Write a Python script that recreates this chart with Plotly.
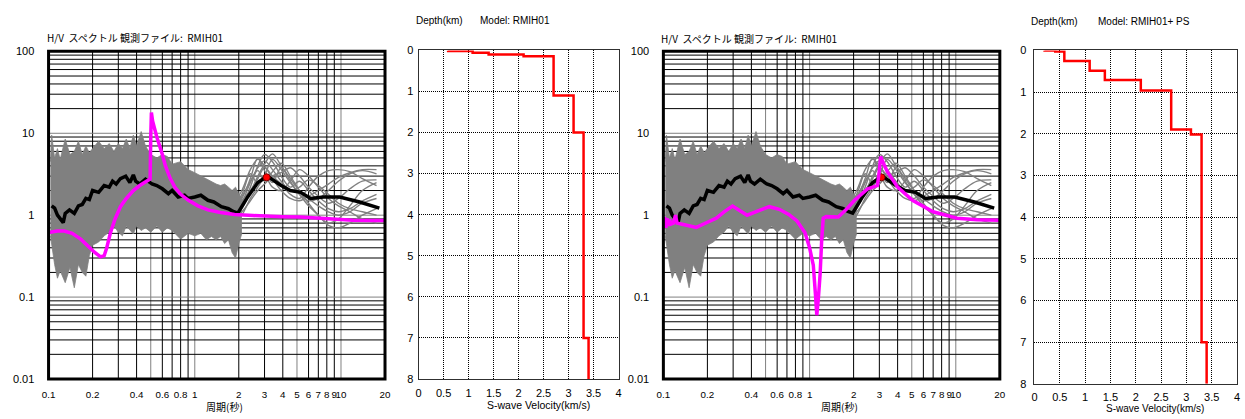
import math
import plotly.graph_objects as go

W, H = 1245, 419

# ---------------- observed H/V (file RMIH01, shared by both H/V panels) ----------------
band_period = [0.103, 0.105, 0.11, 0.115, 0.12, 0.13, 0.14, 0.15, 0.16, 0.17, 0.18, 0.19, 0.2, 0.22, 0.24,
               0.26, 0.28, 0.3, 0.32, 0.34, 0.36, 0.38, 0.4, 0.43, 0.46, 0.5, 0.55, 0.6, 0.65, 0.7,
               0.8, 0.9, 1.0, 1.1, 1.2, 1.3, 1.4, 1.5, 1.6, 1.7, 1.8, 1.9, 2.0, 2.1]
band_upper = [4.5, 9.5, 5.0, 6.5, 4.8, 8.5, 5.5, 6.0, 8.0, 5.5, 7.0, 5.8, 6.5, 8.0, 6.5,
              7.5, 6.0, 7.5, 6.5, 8.5, 6.5, 9.5, 7.0, 10.5, 7.0, 5.5, 5.0, 5.5, 5.2, 4.2,
              4.5, 3.6, 3.3, 3.0, 2.8, 2.6, 2.4, 2.3, 2.4, 2.2, 2.0, 2.2, 1.8, 1.6]
band_lower = [0.56, 0.43, 0.25, 0.17, 0.21, 0.15, 0.23, 0.13, 0.25, 0.2, 0.18, 0.32, 0.43, 0.47, 0.56,
              0.62, 0.74, 0.62, 0.56, 0.74, 0.65, 0.59, 0.74, 0.65, 0.7, 0.62, 0.74, 0.62, 0.7, 0.65,
              0.51, 0.6, 0.56, 0.6, 0.5, 0.55, 0.5, 0.55, 0.45, 0.5, 0.35, 0.3, 0.45, 0.6]

smooth_period = [1.8, 2.1, 2.4, 2.7, 3.0, 3.4, 3.9, 4.5, 5.2, 6.0, 7.0, 8.2, 9.6, 11.5, 14.0, 17.5]
obs_curve_01 = [1.0, 1.3, 2.2, 4.0, 5.5, 4.5, 3.0, 2.2, 2.6, 2.0, 1.5, 1.2, 1.1, 1.2, 1.5, 1.8]
obs_curve_02 = [1.1, 1.6, 2.8, 5.0, 3.5, 2.5, 3.8, 2.6, 1.8, 1.5, 1.6, 2.0, 2.6, 3.2, 3.5, 3.2]
obs_curve_03 = [0.8, 1.2, 1.9, 3.0, 4.2, 5.6, 4.0, 2.8, 2.0, 1.6, 1.3, 1.1, 1.0, 1.1, 1.4, 1.6]
obs_curve_04 = [0.9, 1.4, 2.5, 3.5, 2.6, 3.4, 4.3, 3.0, 2.0, 1.4, 1.0, 0.8, 0.9, 1.3, 2.0, 2.5]
obs_curve_05 = [1.2, 1.8, 3.2, 2.4, 3.0, 2.2, 2.0, 2.6, 3.6, 3.0, 2.2, 1.6, 1.3, 1.1, 0.9, 0.8]
obs_curve_06 = [1.0, 1.5, 2.0, 2.8, 3.8, 3.0, 2.4, 1.8, 1.6, 2.2, 3.0, 3.5, 3.6, 3.4, 2.8, 2.3]
obs_curve_07 = [0.7, 1.0, 1.6, 2.2, 3.0, 4.8, 3.6, 2.5, 1.8, 1.3, 1.0, 0.75, 0.7, 0.8, 1.0, 1.2]
obs_curve_08 = [1.3, 2.0, 3.6, 4.8, 4.0, 2.8, 2.0, 1.6, 1.5, 1.7, 2.0, 2.4, 2.9, 3.3, 3.6, 3.6]
obs_curve_09 = [0.9, 1.1, 1.5, 2.0, 2.4, 3.0, 3.3, 3.8, 3.0, 2.2, 1.7, 1.4, 1.6, 2.1, 2.6, 2.7]
obs_curve_10 = [1.1, 1.7, 2.6, 3.8, 4.6, 3.6, 2.6, 2.0, 2.2, 2.7, 2.3, 1.8, 1.4, 1.2, 1.1, 1.0]
obs_curves = [obs_curve_01, obs_curve_02, obs_curve_03, obs_curve_04, obs_curve_05,
              obs_curve_06, obs_curve_07, obs_curve_08, obs_curve_09, obs_curve_10]

mean_period = [0.105, 0.11, 0.115, 0.12, 0.126, 0.13, 0.139, 0.15, 0.16, 0.17, 0.18, 0.19, 0.2, 0.22, 0.24,
               0.26, 0.274, 0.29, 0.31, 0.337, 0.36, 0.38, 0.394, 0.42, 0.46, 0.51, 0.55, 0.6, 0.66, 0.7,
               0.77, 0.85, 0.9, 1.0, 1.1, 1.23, 1.35, 1.52, 1.7, 1.83, 1.97, 2.3, 2.7, 3.13, 3.87,
               4.5, 5.3, 6.2, 7.6, 9.8, 13.4, 18.3]
mean_hv = [1.3, 1.22, 1.0, 0.9, 0.81, 1.05, 1.16, 1.05, 1.3, 1.35, 1.6, 1.55, 2.0, 1.9, 2.3,
           2.2, 2.6, 2.4, 2.8, 3.0, 2.5, 3.1, 2.6, 2.4, 2.75, 2.4, 2.3, 2.1, 1.83, 2.0,
           1.67, 1.75, 1.6, 1.67, 1.75, 1.52, 1.45, 1.27, 1.2, 1.11, 1.06, 1.67, 2.5, 3.0, 2.32,
           2.0, 1.9, 1.6, 1.67, 1.67, 1.45, 1.22]
peak_period = [3.1]
peak_hv = [2.9]

# ---------------- theoretical H/V ----------------
theo1_period = [0.1, 0.115, 0.128, 0.145, 0.166, 0.185, 0.205, 0.227, 0.24, 0.25, 0.265, 0.285, 0.31, 0.34,
                0.38, 0.42, 0.47, 0.495, 0.5, 0.505, 0.515, 0.53, 0.55, 0.6, 0.63, 0.68, 0.73, 0.8, 0.9,
                1.05, 1.23, 1.5, 1.87, 2.5, 3.1, 4.0, 5.3, 7.0, 8.9, 12.0, 16.0, 20.0]
theo1_hv = [0.615, 0.64, 0.64, 0.6, 0.51, 0.42, 0.355, 0.31, 0.32, 0.4, 0.61, 0.9, 1.27, 1.6,
            2.0, 2.3, 2.64, 2.76, 9.0, 17.9, 14.0, 11.5, 9.0, 5.5, 4.0, 2.8, 2.2, 1.8, 1.53,
            1.3, 1.16, 1.08, 1.02, 0.99, 0.97, 0.96, 0.95, 0.92, 0.88, 0.87, 0.86, 0.86]

theo2_period = [0.1, 0.102, 0.104, 0.106, 0.108, 0.11, 0.113, 0.117, 0.121, 0.124, 0.137, 0.168, 0.2, 0.23,
                0.26, 0.297, 0.33, 0.374, 0.44, 0.53, 0.62, 0.72, 0.82, 0.93, 1.0, 1.06, 1.1, 1.12,
                1.15, 1.18, 1.21, 1.24, 1.3, 1.57, 1.8, 2.03, 2.5, 2.91, 3.0, 3.06, 3.2, 3.4,
                4.0, 5.05, 7.0, 10.2, 14.0, 20.0]
theo2_hv = [0.72, 0.95, 0.7, 0.92, 0.74, 0.88, 0.78, 0.8, 1.0, 0.8, 0.77, 0.71, 0.82, 0.92,
            1.1, 1.29, 1.15, 1.0, 1.12, 1.27, 1.18, 1.02, 0.85, 0.61, 0.4, 0.245, 0.1, 0.06,
            0.1, 0.19, 0.5, 0.92, 0.96, 0.95, 1.2, 1.52, 2.1, 2.3, 3.5, 5.2, 4.3, 3.4,
            2.2, 1.52, 1.1, 0.92, 0.88, 0.87]

# ---------------- S-wave velocity models ----------------
vs_model1 = [0.59, 1.08, 1.4, 2.1, 2.7, 3.1, 3.3, 3.4]
top_model1 = [0.0, 0.015, 0.06, 0.1, 0.14, 1.1, 2.0, 7.0]
vs_model2 = [0.2, 0.41, 0.59, 1.09, 1.39, 2.1, 2.7, 3.09, 3.3, 3.4]
top_model2 = [0.0, 0.005, 0.025, 0.256, 0.49, 0.71, 0.96, 1.9, 2.02, 7.0]
max_depth = 8.0

# ---------------- ticks / grids ----------------
hv_xtick_vals = [0.1, 0.2, 0.4, 0.6, 0.8, 1, 2, 3, 4, 5, 6, 7, 8, 9, 10, 20]
hv_xtick_text = ["0.1", "0.2", "0.4", "0.6", "0.8", "1", "2", "3", "4", "5", "6", "7", "8", "9", "10", "20"]
hv_ytick_vals = [0.01, 0.1, 1, 10, 100]
hv_ytick_text = ["0.01", "0.1", "1", "10", "100"]
hv_vgrid = [0.2, 0.3, 0.4, 0.5, 0.6, 0.7, 0.8, 0.9, 1, 2, 3, 4, 5, 6, 7, 8, 9, 10]
hv_vgrid_gray = [0.5, 1, 5, 10]
hv_hgrid = [m * d for d in (0.01, 0.1, 1, 10) for m in range(1, 10)][1:]
hv_hgrid_gray = [0.1, 1, 10]
vel_xtick_vals = [0, 0.5, 1, 1.5, 2, 2.5, 3, 3.5, 4]
vel_xtick_text = ["0", "0.5", "1", "1.5", "2", "2.5", "3", "3.5", "4"]
vel_ytick_vals = [0, 1, 2, 3, 4, 5, 6, 7, 8]

FONT = "Liberation Sans, Arial, Noto Sans CJK JP, sans-serif"
NFONT = "Liberation Sans Narrow, Liberation Sans, Arial, sans-serif"
JFONT = "Noto Sans CJK JP, Liberation Sans, sans-serif"
GRAY = "#808080"
MAG = "#ff00ff"
CLEAR = "rgba(0,0,0,0)"

def px_x(v):
    return v / W

def px_y(v):
    return 1 - v / H

fig = go.Figure()

def add_hv(xa, ya, theo_p, theo_v):
    xr, yr = "x" + xa, "y" + ya
    fig.add_trace(go.Scatter(x=band_period, y=band_lower, mode="lines", line=dict(width=0, color=GRAY),
                             xaxis=xr, yaxis=yr, hoverinfo="skip"))
    fig.add_trace(go.Scatter(x=band_period, y=band_upper, mode="lines", line=dict(width=0.8, color=GRAY),
                             fill="tonexty", fillcolor=GRAY, xaxis=xr, yaxis=yr, hoverinfo="skip"))
    fig.add_trace(go.Scatter(x=band_period, y=band_lower, mode="lines", line=dict(width=0.8, color=GRAY),
                             xaxis=xr, yaxis=yr, hoverinfo="skip"))
    for c in obs_curves:
        fig.add_trace(go.Scatter(x=smooth_period, y=c, mode="lines",
                                 line=dict(width=1.4, color=GRAY, shape="spline"),
                                 xaxis=xr, yaxis=yr))
    fig.add_trace(go.Scatter(x=mean_period, y=mean_hv, mode="lines", line=dict(width=3.5, color="black"),
                             xaxis=xr, yaxis=yr))
    fig.add_trace(go.Scatter(x=peak_period, y=peak_hv, mode="markers",
                             marker=dict(size=7, color="#ff0000", line=dict(width=1, color="#800000")),
                             xaxis=xr, yaxis=yr))
    fig.add_trace(go.Scatter(x=theo_p, y=theo_v, mode="lines", line=dict(width=3.5, color=MAG),
                             xaxis=xr, yaxis=yr))
    for g in hv_vgrid:
        fig.add_shape(type="line", xref=xr, yref=yr + " domain", x0=g, x1=g, y0=0, y1=1, layer="below",
                      line=dict(width=1, color=GRAY if g in hv_vgrid_gray else "black"))
    for g in hv_hgrid:
        fig.add_shape(type="line", xref=xr + " domain", yref=yr, x0=0, x1=1, y0=g, y1=g, layer="below",
                      line=dict(width=1, color=GRAY if g in hv_hgrid_gray else "black"))
    fig.add_shape(type="rect", xref=xr + " domain", yref=yr + " domain", x0=0, x1=1, y0=0, y1=1,
                  line=dict(width=3, color="black"))

def add_vel(xa, ya, vs, tops):
    xr, yr = "x" + xa, "y" + ya
    fig.add_trace(go.Scatter(x=vs + [vs[-1]], y=tops + [max_depth], mode="lines",
                             line=dict(width=2.5, color="#ff0000", shape="vh"), xaxis=xr, yaxis=yr))

add_hv("", "", theo1_period, theo1_hv)
add_vel("2", "2", vs_model1, top_model1)
add_hv("3", "3", theo2_period, theo2_hv)
add_vel("4", "4", vs_model2, top_model2)

TF = dict(size=11, family=FONT, color="black")
hv_x = dict(type="log", range=[-1, math.log10(20)], tickvals=hv_xtick_vals, ticktext=hv_xtick_text,
            showgrid=False, zeroline=False, showline=False, ticks="outside", ticklen=6, tickcolor=CLEAR,
            tickangle=0, tickfont=dict(size=9.8, family=NFONT, color="black"))
hv_y = dict(type="log", range=[-2, 2], tickvals=hv_ytick_vals, ticktext=hv_ytick_text,
            showgrid=False, zeroline=False, showline=False, ticks="outside", ticklen=11, tickcolor=CLEAR,
            tickfont=TF)
vel_x = dict(range=[0, 4], tickvals=vel_xtick_vals, ticktext=vel_xtick_text, showgrid=True,
             gridcolor="black", griddash="1px,1px", gridwidth=1, zeroline=False, showline=True, mirror=True,
             linecolor="#303030", linewidth=1, ticks="outside", ticklen=4, tickcolor=CLEAR, tickangle=0,
             tickfont=TF)
vel_y = dict(range=[max_depth, 0], tickvals=vel_ytick_vals, showgrid=True, gridcolor="black",
             griddash="1px,1px", gridwidth=1, zeroline=False, showline=True, mirror=True, linecolor="#303030",
             linewidth=1, ticks="outside", ticklen=2, tickcolor=CLEAR, tickfont=TF)

fig.update_layout(
    width=W, height=H, margin=dict(l=0, r=0, t=0, b=0), showlegend=False,
    paper_bgcolor="white", plot_bgcolor="white",
    xaxis=dict(hv_x, domain=[px_x(42), px_x(382)], anchor="y"),
    yaxis=dict(hv_y, domain=[px_y(384), px_y(46.7)], anchor="x"),
    xaxis2=dict(vel_x, domain=[px_x(416), px_x(618)], anchor="y2"),
    yaxis2=dict(vel_y, domain=[px_y(384), px_y(45.7)], anchor="x2"),
    xaxis3=dict(hv_x, domain=[px_x(663.3), px_x(1003.3)], anchor="y3"),
    yaxis3=dict(hv_y, domain=[px_y(384), px_y(46.7)], anchor="x3"),
    xaxis4=dict(vel_x, domain=[px_x(1038.3), px_x(1243)], anchor="y4", ticklen=3),
    yaxis4=dict(vel_y, domain=[px_y(389), px_y(45.7)], anchor="x4", ticklen=5),
)

def note(text, x, y, size=11, anchor="left", family=FONT):
    fig.add_annotation(text=text, x=px_x(x), y=px_y(y), xref="paper", yref="paper", showarrow=False,
                       xanchor=anchor, yanchor="middle", borderpad=0, borderwidth=0,
                       font=dict(size=size, family=family, color="black"))

note("H/V  スペクトル 観測ファイル:  RMIH01", 40, 32, size=10, family=JFONT)
note("H/V  スペクトル 観測ファイル:  RMIH01", 661, 33, size=10, family=JFONT)
note("Depth(km)", 413, 15, size=10)
note("Model: RMIH01", 478, 15, size=10)
note("Depth(km)", 1035, 16, size=10)
note("Model: RMIH01+ PS", 1103, 16, size=10)
note("周期(秒)", 220, 412, size=10, anchor="center", family=JFONT)
note("周期(秒)", 841, 412, size=10, anchor="center", family=JFONT)
note("S-wave Velocity(km/s)", 537, 411, size=10.5, anchor="center")
note("S-wave Velocity(km/s)", 1160, 414, size=10, anchor="center")

fig.write_html("out.html")
